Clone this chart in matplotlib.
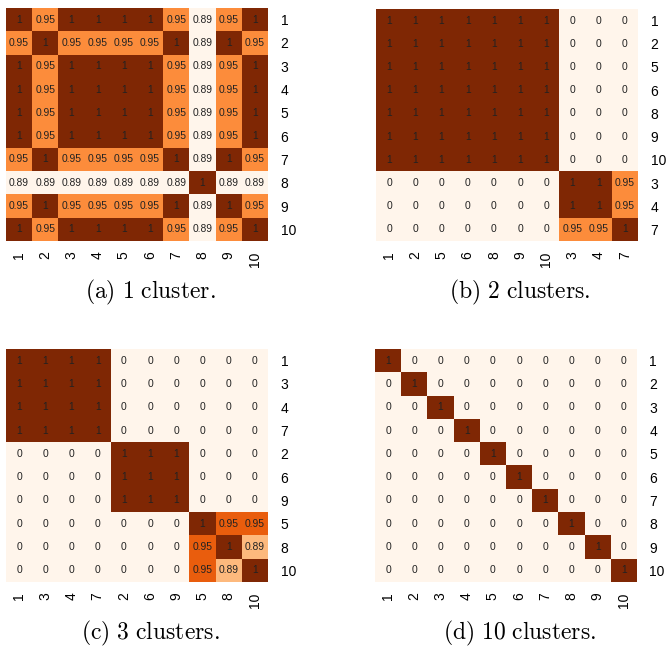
import matplotlib
import matplotlib.pyplot as plt
import numpy as np

matplotlib.use("Agg")

plt.rcParams["font.family"] = ["Liberation Sans", "DejaVu Sans"]
plt.rcParams["mathtext.fontset"] = "cm"

# (a) 1 cluster
labels_a = ["1", "2", "3", "4", "5", "6", "7", "8", "9", "10"]
values_a = [
    [1, 0.95, 1, 1, 1, 1, 0.95, 0.89, 0.95, 1],
    [0.95, 1, 0.95, 0.95, 0.95, 0.95, 1, 0.89, 1, 0.95],
    [1, 0.95, 1, 1, 1, 1, 0.95, 0.89, 0.95, 1],
    [1, 0.95, 1, 1, 1, 1, 0.95, 0.89, 0.95, 1],
    [1, 0.95, 1, 1, 1, 1, 0.95, 0.89, 0.95, 1],
    [1, 0.95, 1, 1, 1, 1, 0.95, 0.89, 0.95, 1],
    [0.95, 1, 0.95, 0.95, 0.95, 0.95, 1, 0.89, 1, 0.95],
    [0.89, 0.89, 0.89, 0.89, 0.89, 0.89, 0.89, 1, 0.89, 0.89],
    [0.95, 1, 0.95, 0.95, 0.95, 0.95, 1, 0.89, 1, 0.95],
    [1, 0.95, 1, 1, 1, 1, 0.95, 0.89, 0.95, 1],
]

# (b) 2 clusters
labels_b = ["1", "2", "5", "6", "8", "9", "10", "3", "4", "7"]
values_b = [
    [1, 1, 1, 1, 1, 1, 1, 0, 0, 0],
    [1, 1, 1, 1, 1, 1, 1, 0, 0, 0],
    [1, 1, 1, 1, 1, 1, 1, 0, 0, 0],
    [1, 1, 1, 1, 1, 1, 1, 0, 0, 0],
    [1, 1, 1, 1, 1, 1, 1, 0, 0, 0],
    [1, 1, 1, 1, 1, 1, 1, 0, 0, 0],
    [1, 1, 1, 1, 1, 1, 1, 0, 0, 0],
    [0, 0, 0, 0, 0, 0, 0, 1, 1, 0.95],
    [0, 0, 0, 0, 0, 0, 0, 1, 1, 0.95],
    [0, 0, 0, 0, 0, 0, 0, 0.95, 0.95, 1],
]

# (c) 3 clusters
labels_c = ["1", "3", "4", "7", "2", "6", "9", "5", "8", "10"]
values_c = [
    [1, 1, 1, 1, 0, 0, 0, 0, 0, 0],
    [1, 1, 1, 1, 0, 0, 0, 0, 0, 0],
    [1, 1, 1, 1, 0, 0, 0, 0, 0, 0],
    [1, 1, 1, 1, 0, 0, 0, 0, 0, 0],
    [0, 0, 0, 0, 1, 1, 1, 0, 0, 0],
    [0, 0, 0, 0, 1, 1, 1, 0, 0, 0],
    [0, 0, 0, 0, 1, 1, 1, 0, 0, 0],
    [0, 0, 0, 0, 0, 0, 0, 1, 0.95, 0.95],
    [0, 0, 0, 0, 0, 0, 0, 0.95, 1, 0.89],
    [0, 0, 0, 0, 0, 0, 0, 0.95, 0.89, 1],
]

# (d) 10 clusters
labels_d = ["1", "2", "3", "4", "5", "6", "7", "8", "9", "10"]
values_d = [
    [1, 0, 0, 0, 0, 0, 0, 0, 0, 0],
    [0, 1, 0, 0, 0, 0, 0, 0, 0, 0],
    [0, 0, 1, 0, 0, 0, 0, 0, 0, 0],
    [0, 0, 0, 1, 0, 0, 0, 0, 0, 0],
    [0, 0, 0, 0, 1, 0, 0, 0, 0, 0],
    [0, 0, 0, 0, 0, 1, 0, 0, 0, 0],
    [0, 0, 0, 0, 0, 0, 1, 0, 0, 0],
    [0, 0, 0, 0, 0, 0, 0, 1, 0, 0],
    [0, 0, 0, 0, 0, 0, 0, 0, 1, 0],
    [0, 0, 0, 0, 0, 0, 0, 0, 0, 1],
]

captions = [
    r"$\mathrm{(a)\ 1\ cluster.}$",
    r"$\mathrm{(b)\ 2\ clusters.}$",
    r"$\mathrm{(c)\ 3\ clusters.}$",
    r"$\mathrm{(d)\ 10\ clusters.}$",
]

W, H = 666, 648


def px_axes(fig, left, top, right, bottom):
    return fig.add_axes([left / W, 1 - bottom / H, (right - left) / W, (bottom - top) / H])


def draw_heatmap(ax, values, labels, caption):
    values = np.array(values, dtype=float)
    # colour by rank of the distinct values
    levels = np.unique(values)
    rank = np.searchsorted(levels, values) / max(len(levels) - 1, 1)
    ax.imshow(rank, cmap="Oranges", vmin=0, vmax=1, aspect="auto",
              interpolation="nearest")
    n = len(labels)
    for i in range(n):
        for j in range(n):
            ax.text(j, i, f"{values[i, j]:g}", ha="center", va="center",
                    fontsize=7.4, color="#222222")
    ax.set_xticks(range(n))
    ax.set_xticklabels(labels, rotation=90, fontsize=10)
    ax.set_yticks(range(n))
    ax.set_yticklabels(labels, fontsize=10)
    ax.yaxis.tick_right()
    ax.tick_params(length=0)
    ax.tick_params(axis="x", pad=7.5)
    ax.tick_params(axis="y", pad=9)
    for s in ax.spines.values():
        s.set_visible(False)
    ax.text(0.55, -0.222, caption, transform=ax.transAxes, ha="center",
            va="center", fontsize=17)


fig = plt.figure(figsize=(W / 100, H / 100), dpi=100)
ax_a = px_axes(fig, 6, 8, 268, 241)
ax_b = px_axes(fig, 376, 9, 638, 241)
ax_c = px_axes(fig, 6, 349, 268, 582)
ax_d = px_axes(fig, 375, 349, 637, 582)

draw_heatmap(ax_a, values_a, labels_a, captions[0])
draw_heatmap(ax_b, values_b, labels_b, captions[1])
draw_heatmap(ax_c, values_c, labels_c, captions[2])
draw_heatmap(ax_d, values_d, labels_d, captions[3])

plt.savefig("out.png", dpi=100)
plt.close()
